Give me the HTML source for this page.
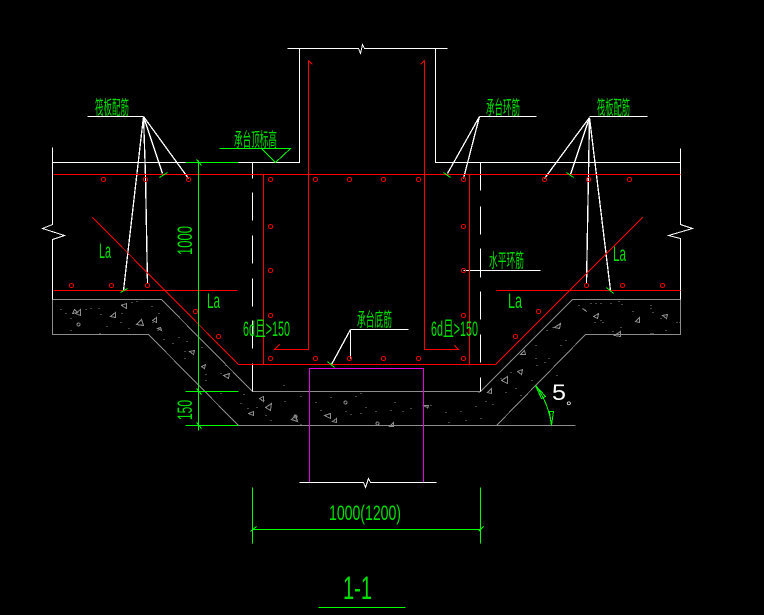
<!DOCTYPE html>
<html><head><meta charset="utf-8"><style>
html,body{margin:0;padding:0;background:#000;width:764px;height:615px;overflow:hidden}
svg{display:block}
text{fill:#00e000;font-family:"Liberation Sans","Noto Sans CJK SC",sans-serif}
.c{font-size:19px}
.n{font-size:21px}
</style></head><body>
<svg width="764" height="615" viewBox="0 0 764 615" xmlns="http://www.w3.org/2000/svg">
<rect width="764" height="615" fill="#000"/>
<g transform="translate(.5 .5)" fill="none" stroke-width="1" shape-rendering="crispEdges">
<!-- concrete -->
<g stroke="#8c8c8c">
<path d="M52 299H161L252 391H480L572 299H680V334H585L496 425H575M52 299V334H148L238 425H496"/>
<path d="M60 309h1M65 313h1M70 318h1M85 309h1M90 308h1M98 308h1M100 314h1M70 330h1M99 333h1M106 326h1M121 304h1M131 302h1M136 301h1M121 313h1M120 322h1M128 328h1M151 306h1M158 313h1M152 322h1M157 330h1M178 316h1M163 339h1M178 337h1M172 343h1M186 341h1M184 351h1M184 358h1M201 347h1M205 374h1M220 373h1M205 380h1M225 365h1M220 393h1M243 394h1M240 403h1M247 408h1M256 407h1M283 385h1M263 400h1M284 401h1M300 396h1M315 402h1M330 397h1M355 396h1M360 393h1M320 410h1M345 411h1M360 413h1M365 407h1M394 402h1M375 411h1M390 410h1M402 411h1M410 408h1M430 405h1M445 412h1M460 411h1M475 406h1M485 401h1M480 418h1M465 420h1M448 422h1M270 420h1M300 424h1M265 415h1M350 414h1M500 378h1M510 372h1M505 392h1M515 388h1M520 395h1M531 380h1M536 365h1M535 358h1M548 358h1M535 345h1M546 330h1M552 327h1M560 345h1M565 340h1M578 305h1M590 303h1M595 303h1M600 303h1M610 303h1M618 301h1M621 304h1M650 305h1M652 312h1M632 311h1M602 322h1M594 322h1M600 320h1M620 327h1M652 333h1M665 330h1M660 318h1M676 322h1M650 308h1M612 331h1M650 333h1M679 322h1M525 345h1M556 375h1M544 362h1M478 392h1M492 404h1M510 360h1"/>
<path d="M74 309l3 3-5 1zM80 309l0 6-5-2zM126 303l0 5-5-3zM115 312l0 5-5-1zM141 319l2 6-7-1zM156 317l0 5-4-2zM160 327l1 3-4-2zM194 350l-1 4-4-3zM205 364l-1 4-3-2zM229 373l-1 5-5-3zM263 396l0 5-4-3zM271 403l-1 7-5-3zM253 411l0 4-5-2zM295 415l2 6-6-2zM427 407l-5-2 6 0-1 3zM330 413l0 5-6-3zM336 418l0 4-4-1zM393 422l0 4-4 0zM585 310l-3-2 4 3zM598 313l-1 5-4-2zM639 317l0 5-4-1zM667 314l-1 4-4-3zM620 331l0 5-6-1zM560 323l-1 5-5-1zM524 350l1 4-5 0zM522 369l-1 5-4-3zM507 376l0 7-6-3zM491 388l0 5-4-1z"/>
<circle cx="78" cy="324" r="1.5"/><circle cx="345" cy="402" r="1.5"/><circle cx="295" cy="416" r="1.5"/><circle cx="377" cy="423" r="1.5"/>
</g>
<!-- magenta column -->
<path d="M309 482V368H423V482" stroke="#e400e4"/>
<!-- white structure -->
<g stroke="#fff">
<path d="M287 48H358L360 53L362 44L364 48H447M299 48V162H52M435 48V162H680M52 147V224L42 228L64 235L52 239V299M680 148V224L692 228L668 235L680 238V299"/>
<path d="M299 482H363L365 487L368 478L370 482H436"/>
<path d="M252 162V178M252 192V220M252 235V263M252 278V306M252 320V348M252 363V391"/>
<path d="M480 162V190M480 206V234M480 248V277M480 291V319M480 334V362M480 377V391"/>
<path d="M87 116H143M536 116H479M647 116H589M463 270H540M408 329H350"/>
<path stroke-width="1.3" d="M143 116L162 173M143 116L188 178M143 116L145 176L147 283M143 116L123 290M479 116L447 173M479 116L463 178M589 117L544 178M589 117L570 174M589 117L586 283M589 117L610 290M350 358V329M350 329L331 364"/>
</g>
<!-- red rebar -->
<g stroke="#f00">
<path d="M53 174H680M53 290H237M496 290H680M238 364H495"/>
<path d="M92 217L238 364M642 217L495 364"/>
<path d="M263 174V364M469 174V364M308 60V349H274L279 344M424 60V349H458L454 345M308 60L312 64M424 60L420 64"/>
<g>
<circle cx="103" cy="179" r="2"/><circle cx="145" cy="179" r="2"/><circle cx="188" cy="179" r="2"/><circle cx="270" cy="179" r="2"/><circle cx="315" cy="179" r="2"/><circle cx="349" cy="179" r="2"/><circle cx="383" cy="179" r="2"/><circle cx="418" cy="179" r="2"/><circle cx="463" cy="179" r="2"/><circle cx="544" cy="179" r="2"/><circle cx="588" cy="179" r="2"/><circle cx="629" cy="179" r="2"/>
<circle cx="270" cy="226" r="2"/><circle cx="270" cy="270" r="2"/><circle cx="270" cy="315" r="2"/><circle cx="463" cy="226" r="2"/><circle cx="463" cy="270" r="2"/><circle cx="463" cy="315" r="2"/>
<circle cx="270" cy="358" r="2"/><circle cx="315" cy="358" r="2"/><circle cx="349" cy="358" r="2"/><circle cx="383" cy="358" r="2"/><circle cx="418" cy="358" r="2"/><circle cx="463" cy="358" r="2"/>
<circle cx="71" cy="285" r="2"/><circle cx="111" cy="285" r="2"/><circle cx="147" cy="285" r="2"/><circle cx="586" cy="285" r="2"/><circle cx="622" cy="285" r="2"/><circle cx="662" cy="285" r="2"/>
<circle cx="195" cy="311" r="2"/><circle cx="218" cy="336" r="2"/><circle cx="538" cy="311" r="2"/><circle cx="515" cy="336" r="2"/>
</g>
</g>
<!-- green lines -->
<g stroke="#0f0">
<path d="M198 160V430M185 162H238M185 391H238M185 425H238M196 159L201 165M196 388L201 394M196 422L201 428"/>
<path d="M219 148H290L275 162L261 148"/>
<path d="M159 177L167 172M120 292L127 288M566 172L573 177M606 287L613 293M443 172L450 177M327 361L334 367"/>
<path d="M252 487V543M480 487V543M252 529H480M250 531L256 526M478 531L483 526"/>
<path d="M318 607H405"/>
<path d="M535 385Q548 402 551 425M535 385L545 396L541 398ZM549 411H553L551 425Z"/>
</g>
</g>
<!-- labels -->
<text class="c" x="95" y="114" textLength="34" lengthAdjust="spacingAndGlyphs">筏板配筋</text>
<text class="c" x="234" y="146" textLength="43" lengthAdjust="spacingAndGlyphs">承台顶标高</text>
<text class="c" x="486" y="114" textLength="34" lengthAdjust="spacingAndGlyphs">承台环筋</text>
<text class="c" x="597" y="114" textLength="33" lengthAdjust="spacingAndGlyphs">筏板配筋</text>
<text class="c" x="489" y="267" textLength="35" lengthAdjust="spacingAndGlyphs">水平环筋</text>
<text class="c" x="357" y="326" textLength="35" lengthAdjust="spacingAndGlyphs">承台底筋</text>
<text class="n" x="99" y="258" textLength="12" lengthAdjust="spacingAndGlyphs">La</text>
<text class="n" x="207" y="308" textLength="13" lengthAdjust="spacingAndGlyphs">La</text>
<text class="n" x="613" y="261" textLength="13" lengthAdjust="spacingAndGlyphs">La</text>
<text class="n" x="508" y="308" textLength="14" lengthAdjust="spacingAndGlyphs">La</text>
<text class="n" x="243" y="336" textLength="47" lengthAdjust="spacingAndGlyphs">6d且&gt;150</text>
<text class="n" x="431" y="336" textLength="47" lengthAdjust="spacingAndGlyphs">6d且&gt;150</text>
<text class="n" transform="translate(192 255) rotate(-90)" textLength="29" lengthAdjust="spacingAndGlyphs">1000</text>
<text class="n" transform="translate(192 420) rotate(-90)" textLength="20" lengthAdjust="spacingAndGlyphs">150</text>
<text class="n" x="329" y="520" textLength="72" lengthAdjust="spacingAndGlyphs">1000(1200)</text>
<text x="343" y="599" font-size="32" textLength="29" lengthAdjust="spacingAndGlyphs">1-1</text>
<text x="552" y="400" font-size="22" textLength="14" lengthAdjust="spacingAndGlyphs" style="fill:#fff">5</text>
<text x="566" y="411" font-size="14" style="fill:#fff">°</text>
</svg>
</body></html>
